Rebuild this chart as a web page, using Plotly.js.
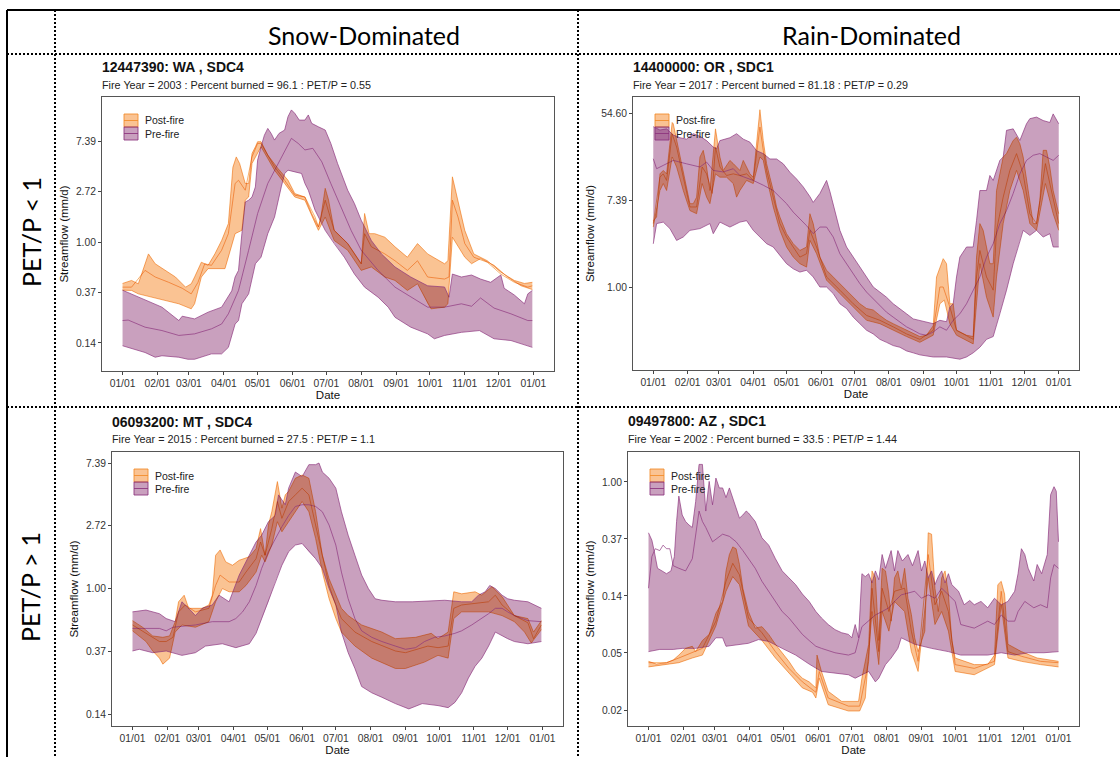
<!DOCTYPE html>
<html>
<head>
<meta charset="utf-8">
<script src="https://cdn.plot.ly/plotly-3.0.1.min.js"></script>
<style>
html,body{margin:0;padding:0;background:#fff;}
#chart{width:1120px;height:757px;}
</style>
</head>
<body>
<div id="chart"></div>
<script>
// ---- x axis: day of year, ticks at the first of each month ----
const monthDays = [0,31,59,90,120,151,181,212,243,273,304,334,365];
const monthLabels = ['01/01','02/01','03/01','04/01','05/01','06/01','07/01','08/01','09/01','10/01','11/01','12/01','01/01'];

// ---- y axis ticks (powers of e) ----
const tickValsSnow = [0.1353,0.3679,1,2.7183,7.3891];
const tickTextSnow = ['0.14','0.37','1.00','2.72','7.39'];
const tickValsOR = [1,7.3891,54.598];
const tickTextOR = ['1.00','7.39','54.60'];
const tickValsAZ = [0.0183,0.0498,0.1353,0.3679,1];
const tickTextAZ = ['0.02','0.05','0.14','0.37','1.00'];

// ---- 12447390: WA (streamflow mm/d by day of year) ----
const waPreHi = [[0,0.385],[20,0.32],[35,0.275],[50,0.211],[53,0.23],[64,0.218],[76,0.249],[88,0.275],[97,0.38],[100,0.50],[103,0.57],[106,1.18],[109,2.21],[112,2.29],[115,2.44],[118,2.98],[120,5.07],[123,6.6],[126,8.3],[129,9.5],[132,8.6],[135,7.54],[139,8.6],[144,9.2],[147,12.0],[150,13.7],[153,12.8],[157,11.2],[162,11.2],[165,12.4],[168,10.5],[174,9.8],[180,9.2],[185,7.06],[191,4.74],[200,2.79],[206,2.14],[212,1.54],[221,1.03],[230,0.79],[242,0.61],[256,0.50],[271,0.42],[286,0.41],[290,0.335],[293,0.53],[301,0.50],[310,0.52],[318,0.48],[327,0.45],[333,0.50],[336,0.52],[339,0.40],[348,0.35],[357,0.294],[360,0.358],[364,0.383]];
const waPreMid = [[0,0.211],[5,0.213],[20,0.185],[35,0.173],[50,0.157],[64,0.162],[79,0.179],[88,0.197],[94,0.241],[103,0.383],[112,0.85],[120,1.76],[129,3.19],[138,4.74],[146,6.6],[150,7.8],[156,7.06],[162,6.2],[169,6.4],[177,4.9],[185,3.19],[194,2.0],[203,1.26],[212,0.85],[227,0.57],[242,0.409],[256,0.335],[271,0.275],[286,0.275],[301,0.294],[310,0.28],[318,0.33],[330,0.27],[345,0.241],[360,0.211],[364,0.211]];
const waPreLo = [[0,0.128],[5,0.124],[20,0.112],[29,0.102],[35,0.105],[50,0.102],[58,0.098],[64,0.098],[79,0.109],[88,0.109],[94,0.124],[100,0.197],[103,0.211],[106,0.294],[112,0.358],[118,0.65],[123,0.74],[129,1.18],[135,1.64],[141,2.98],[144,3.89],[147,4.15],[153,4.0],[159,3.89],[162,3.19],[165,2.79],[171,1.88],[180,1.26],[188,0.97],[197,0.74],[206,0.53],[215,0.409],[227,0.335],[236,0.275],[242,0.225],[256,0.185],[271,0.162],[277,0.147],[286,0.157],[301,0.167],[317,0.173],[330,0.147],[345,0.142],[360,0.128],[364,0.124]];
const waPostHi = [[0,0.44],[8,0.467],[14,0.437],[20,0.65],[23,0.79],[29,0.65],[38,0.57],[47,0.50],[56,0.409],[61,0.437],[64,0.50],[70,0.67],[76,0.63],[82,0.79],[88,1.03],[94,1.44],[98,4.4],[101,5.4],[104,4.74],[109,3.19],[112,3.19],[115,5.78],[118,6.6],[120,7.3],[123,7.3],[129,5.6],[138,4.3],[147,3.4],[153,2.61],[162,2.44],[168,1.76],[174,1.35],[176,1.6],[180,2.9],[183,2.3],[188,1.26],[200,0.97],[212,0.65],[215,1.76],[219,1.18],[224,1.18],[233,1.10],[242,0.91],[253,0.74],[262,0.97],[271,0.79],[286,0.65],[289,0.69],[293,3.64],[298,2.29],[304,1.26],[312,0.79],[324,0.69],[336,0.55],[348,0.467],[357,0.44],[364,0.45]];
const waPostMid = [[0,0.409],[8,0.409],[20,0.57],[29,0.50],[41,0.45],[53,0.40],[61,0.358],[67,0.45],[73,0.65],[79,0.63],[88,0.85],[94,1.18],[100,3.19],[103,3.4],[109,2.79],[115,5.41],[120,7.06],[123,7.06],[135,4.44],[144,3.4],[153,2.53],[162,2.44],[171,1.64],[174,1.35],[180,2.29],[188,1.26],[200,0.97],[212,0.65],[215,1.18],[221,0.91],[233,0.79],[242,0.69],[253,0.57],[262,0.69],[271,0.50],[286,0.48],[290,0.50],[293,2.29],[298,1.64],[304,0.97],[312,0.74],[324,0.67],[336,0.53],[348,0.45],[360,0.409],[364,0.42]];
const waPostLo = [[0,0.385],[8,0.383],[14,0.358],[35,0.32],[50,0.294],[61,0.266],[64,0.294],[70,0.50],[76,0.59],[91,0.59],[94,0.74],[100,1.18],[106,1.26],[109,2.29],[112,2.44],[115,4.74],[123,6.6],[135,4.15],[144,3.19],[153,2.44],[162,2.29],[171,1.44],[174,1.26],[180,1.64],[188,1.03],[200,0.85],[212,0.57],[221,0.61],[233,0.50],[242,0.467],[253,0.383],[262,0.437],[271,0.294],[274,0.266],[286,0.275],[289,0.294],[293,1.10],[298,0.91],[304,0.74],[310,0.65],[318,0.72],[330,0.63],[342,0.50],[354,0.42],[364,0.39]];

// ---- 14400000: OR ----
const orPreHi = [[0,40],[6,37],[12,38],[18,33],[24,31],[30,30],[36,34],[42,32],[48,29],[54,25],[57,24],[60,29],[69,31],[75,34],[81,30],[87,28],[93,23],[99,21.5],[105,19],[111,19],[117,17],[123,14],[129,12],[135,10],[141,8],[144,7],[150,8.6],[153,10],[156,11.6],[159,9],[162,6.8],[168,3.68],[174,2.51],[180,1.99],[186,1.58],[192,1.26],[198,1.0],[204,0.89],[210,0.79],[216,0.68],[222,0.61],[228,0.54],[234,0.48],[240,0.465],[246,0.45],[252,0.43],[258,0.465],[264,0.45],[267,0.63],[270,0.68],[273,1.26],[276,1.99],[282,2.51],[288,2.51],[291,4.6],[294,9.2],[300,9.2],[303,13],[306,11.6],[312,18.4],[315,19.9],[318,36.7],[324,38],[330,29.1],[336,42.7],[339,48],[345,49.8],[351,46],[357,44],[360,53.6],[365,42.7]];
const orPreMid = [[0,19.1],[3,15.2],[9,16.4],[18,18.4],[30,17],[42,15.8],[48,17.7],[54,14.6],[63,14.1],[72,15.2],[78,13],[90,11.6],[99,10.4],[108,9.2],[114,7.9],[120,6.8],[126,5.6],[132,4.8],[138,4.1],[144,3.41],[150,3.97],[156,3.97],[162,3.16],[168,2.15],[174,1.71],[180,1.36],[186,1.08],[192,0.89],[198,0.76],[204,0.66],[210,0.56],[216,0.50],[222,0.45],[228,0.40],[234,0.37],[240,0.34],[246,0.33],[252,0.355],[258,0.40],[264,0.37],[270,0.465],[276,0.54],[282,0.68],[288,0.93],[294,1.26],[300,1.99],[306,2.71],[312,4.3],[318,5.8],[324,8.6],[330,13.5],[336,18.4],[342,20.7],[348,21.5],[354,19.9],[360,18.4],[365,20.7]];
const orPreLo = [[0,2.7],[3,4.3],[9,4.45],[15,3.83],[21,2.92],[27,3.16],[33,3.68],[42,3.83],[51,4.3],[54,3.41],[60,4.45],[69,3.97],[78,4.45],[84,4.6],[90,3.68],[96,3.16],[102,2.71],[108,2.51],[114,2.07],[120,1.71],[126,1.52],[132,1.41],[138,1.47],[144,1.26],[150,1.0],[156,1.0],[162,0.86],[168,0.68],[174,0.61],[180,0.50],[186,0.43],[192,0.37],[198,0.34],[204,0.30],[210,0.28],[216,0.26],[222,0.25],[228,0.23],[234,0.22],[240,0.21],[252,0.20],[264,0.20],[276,0.19],[282,0.20],[288,0.22],[294,0.25],[300,0.30],[306,0.32],[312,0.54],[318,0.93],[324,1.71],[330,2.92],[333,3.68],[339,3.28],[345,3.68],[351,3.16],[357,3.41],[360,2.51],[365,2.51]];
const orPostHi = [[0,4.6],[3,5.0],[6,13.5],[9,14.6],[12,13.5],[17,44],[18,42.7],[21,29.1],[24,19.9],[27,13.5],[30,9.2],[33,6.8],[36,6.8],[39,7.9],[42,19.9],[45,23.2],[48,15.8],[51,9.2],[56,38],[60,19.9],[63,14.6],[69,18.4],[72,17.1],[78,14.6],[81,18.4],[87,13.5],[90,12.5],[93,29.1],[96,59],[99,29.1],[102,17.1],[105,12.5],[108,9.2],[111,6.3],[114,5.0],[120,3.41],[126,2.71],[132,2.32],[138,2.51],[141,5.4],[144,4.3],[147,2.92],[150,1.99],[156,1.47],[162,1.26],[168,1.08],[174,0.93],[180,0.79],[186,0.68],[192,0.61],[198,0.59],[204,0.52],[210,0.465],[216,0.43],[222,0.40],[228,0.37],[234,0.34],[240,0.32],[246,0.33],[252,0.41],[255,1.26],[261,1.92],[264,1.71],[267,0.68],[270,0.68],[273,0.37],[282,0.33],[288,0.32],[291,1.99],[294,4.3],[297,3.68],[300,2.51],[303,1.71],[306,1.71],[309,9.2],[312,13.5],[315,19.9],[318,21.5],[324,29.1],[327,31.4],[330,27],[333,19.9],[336,11.6],[339,6.8],[342,4.3],[345,4.3],[348,7.3],[351,23.2],[354,23.2],[357,15.8],[360,9.2],[365,5.4]];
const orPostMid = [[0,4.3],[6,12.5],[9,13.5],[12,11.6],[17,33.9],[21,25],[27,12.5],[33,6.3],[39,6.3],[44,15.8],[48,13.5],[53,8.6],[56,25],[60,15.8],[66,13],[72,13.5],[78,13],[84,13.5],[90,11.6],[96,39.6],[99,23.2],[102,14.6],[108,7.9],[114,4.3],[120,3.16],[126,2.51],[132,1.99],[138,2.15],[141,3.68],[147,2.51],[156,1.26],[168,0.93],[180,0.68],[192,0.52],[204,0.465],[216,0.40],[228,0.34],[240,0.30],[252,0.37],[258,1.0],[261,1.0],[267,0.63],[273,0.37],[288,0.30],[291,1.26],[294,2.32],[300,1.26],[306,0.93],[309,3.68],[315,7.9],[321,14.6],[327,21.5],[333,13.5],[339,5.4],[345,4.3],[353,17.1],[360,7.3],[365,4.3]];
const orPostLo = [[0,3.97],[6,9.2],[9,10.8],[12,9.2],[17,19.9],[21,15.8],[27,9.2],[33,5.8],[39,5.4],[44,10.8],[48,7.9],[51,6.8],[56,13.5],[60,12.5],[66,12.5],[72,10.8],[75,7.9],[78,9.2],[84,11.6],[90,10.8],[96,19.9],[99,18.4],[102,12.5],[108,6.3],[114,3.68],[120,2.51],[126,1.99],[132,1.71],[138,1.58],[141,2.92],[147,2.15],[156,1.17],[168,0.86],[180,0.63],[192,0.465],[204,0.43],[216,0.37],[228,0.32],[240,0.28],[252,0.33],[258,0.68],[262,0.74],[267,0.43],[273,0.33],[288,0.27],[291,0.68],[294,1.71],[300,0.79],[306,0.50],[309,1.26],[315,4.3],[321,9.2],[327,14.6],[333,9.2],[339,4.3],[345,3.68],[353,10.8],[360,5.4],[365,3.68]];

// ---- 06093200: MT ----
const mtPreHi = [[0,0.69],[12,0.71],[24,0.67],[30,0.62],[38,0.59],[44,0.81],[50,0.73],[56,0.65],[62,0.73],[71,0.77],[77,0.90],[86,0.81],[95,1.24],[104,1.70],[110,2.1],[115,2.34],[121,2.9],[127,3.2],[130,4.45],[136,3.8],[139,4.95],[145,6.4],[151,5.95],[157,7.2],[163,7.2],[166,7.39],[169,6.4],[175,5.8],[181,4.95],[186,3.4],[192,2.34],[198,1.7],[204,1.24],[210,1.0],[216,0.85],[222,0.83],[234,0.81],[249,0.81],[263,0.82],[278,0.83],[293,0.81],[302,0.81],[308,0.90],[314,0.95],[318,1.05],[323,1.0],[329,0.90],[334,0.85],[340,0.83],[352,0.81],[364,0.73]];
const mtPreMid = [[0,0.53],[12,0.53],[24,0.53],[30,0.51],[36,0.54],[56,0.56],[71,0.59],[86,0.59],[92,0.62],[98,0.69],[104,0.81],[110,1.05],[115,1.38],[121,1.8],[127,2.22],[133,2.68],[139,3.2],[145,3.7],[151,3.8],[157,3.8],[163,3.7],[169,3.4],[175,2.75],[181,2.0],[186,1.3],[192,0.85],[198,0.62],[204,0.51],[213,0.46],[222,0.43],[234,0.40],[243,0.38],[252,0.39],[260,0.43],[269,0.46],[278,0.47],[287,0.49],[293,0.51],[302,0.56],[311,0.62],[317,0.67],[323,0.73],[329,0.73],[334,0.69],[340,0.65],[352,0.60],[364,0.59]];
const mtPreLo = [[0,0.37],[6,0.38],[18,0.36],[30,0.37],[44,0.345],[56,0.36],[65,0.40],[80,0.415],[92,0.39],[104,0.415],[110,0.49],[115,0.62],[121,0.81],[127,1.11],[133,1.45],[139,1.8],[145,2.0],[151,2.05],[157,1.8],[163,1.61],[169,1.38],[175,1.0],[181,0.77],[186,0.50],[192,0.36],[198,0.28],[204,0.21],[213,0.19],[222,0.177],[234,0.16],[246,0.147],[258,0.16],[272,0.155],[281,0.15],[287,0.163],[293,0.19],[299,0.24],[305,0.29],[311,0.33],[317,0.40],[323,0.50],[329,0.47],[334,0.45],[340,0.43],[352,0.415],[364,0.43]];
const mtPostHi = [[0,0.60],[9,0.54],[18,0.47],[27,0.46],[33,0.47],[38,0.59],[41,0.81],[46,0.90],[50,0.73],[62,0.73],[68,0.77],[71,0.90],[74,1.7],[78,1.85],[83,1.53],[89,1.45],[95,1.57],[104,1.66],[110,1.89],[114,2.6],[118,1.7],[121,2.75],[124,3.4],[129,5.5],[133,3.6],[136,4.45],[139,4.7],[145,5.8],[151,6.1],[157,5.8],[163,3.4],[169,1.7],[175,1.17],[181,0.90],[186,0.73],[192,0.65],[204,0.56],[222,0.50],[234,0.45],[252,0.46],[266,0.49],[272,0.45],[281,0.50],[286,0.95],[293,0.92],[305,0.95],[311,0.90],[320,1.03],[329,0.88],[340,0.65],[352,0.62],[357,0.50],[364,0.60]];
const mtPostMid = [[0,0.56],[12,0.49],[24,0.43],[30,0.43],[36,0.46],[41,0.69],[47,0.77],[56,0.69],[68,0.73],[74,1.05],[78,1.24],[86,1.11],[95,1.11],[101,1.3],[110,1.61],[114,2.1],[118,1.7],[124,2.6],[129,4.0],[133,3.06],[139,4.0],[145,4.45],[151,4.95],[157,4.45],[163,2.75],[169,1.61],[175,1.05],[181,0.77],[186,0.62],[198,0.50],[213,0.43],[234,0.37],[243,0.36],[263,0.40],[272,0.39],[281,0.40],[286,0.73],[293,0.77],[317,0.81],[323,0.90],[329,0.77],[340,0.65],[352,0.58],[357,0.45],[364,0.56]];
const mtPostLo = [[0,0.51],[12,0.43],[18,0.37],[24,0.33],[27,0.30],[33,0.33],[38,0.50],[44,0.56],[56,0.54],[68,0.59],[74,0.81],[80,1.0],[86,0.95],[95,0.95],[101,1.05],[110,1.3],[115,1.7],[118,1.53],[124,2.0],[129,2.9],[133,2.47],[139,2.9],[145,3.4],[151,4.0],[157,3.4],[163,2.22],[169,1.3],[175,0.85],[181,0.62],[186,0.50],[198,0.40],[213,0.33],[234,0.28],[243,0.28],[260,0.31],[272,0.345],[281,0.33],[286,0.62],[293,0.69],[317,0.69],[329,0.65],[340,0.59],[349,0.50],[355,0.42],[364,0.52]];

// ---- 09497800: AZ ----
const azPreHi = [[0,0.41],[3,0.36],[5,0.30],[8,0.22],[12,0.21],[16,0.20],[20,0.21],[23,0.27],[25,0.50],[27,0.78],[30,0.56],[33,0.50],[36,0.47],[39,0.45],[42,0.71],[45,1.36],[48,1.36],[51,0.60],[54,1.01],[57,0.67],[60,1.07],[63,0.90],[66,0.90],[69,0.76],[72,0.90],[75,0.76],[78,0.63],[81,0.53],[84,0.56],[87,0.60],[89,0.58],[95,0.50],[101,0.375],[107,0.33],[113,0.26],[119,0.21],[125,0.186],[131,0.165],[137,0.14],[143,0.123],[149,0.103],[154,0.092],[160,0.082],[166,0.075],[172,0.071],[178,0.069],[181,0.065],[184,0.082],[187,0.065],[190,0.20],[193,0.19],[196,0.20],[199,0.17],[202,0.21],[205,0.18],[208,0.28],[211,0.22],[214,0.26],[216,0.30],[219,0.21],[222,0.30],[226,0.25],[231,0.28],[235,0.23],[240,0.30],[243,0.21],[246,0.25],[249,0.186],[252,0.21],[255,0.165],[258,0.19],[261,0.21],[264,0.17],[267,0.20],[270,0.165],[276,0.147],[281,0.116],[286,0.125],[290,0.116],[296,0.123],[302,0.11],[308,0.13],[314,0.116],[320,0.123],[326,0.147],[329,0.20],[332,0.31],[335,0.28],[338,0.22],[343,0.176],[346,0.235],[350,0.20],[355,0.28],[358,0.80],[361,0.92],[363,0.85],[365,0.35]];
const azPreMid = [[0,0.155],[3,0.27],[6,0.31],[10,0.30],[13,0.33],[16,0.31],[19,0.31],[22,0.23],[27,0.22],[33,0.21],[39,0.26],[45,0.60],[48,0.50],[51,0.45],[57,0.35],[66,0.40],[72,0.385],[78,0.35],[84,0.30],[89,0.26],[95,0.22],[101,0.175],[107,0.147],[113,0.123],[119,0.103],[125,0.092],[131,0.079],[137,0.069],[143,0.062],[149,0.056],[154,0.054],[166,0.050],[178,0.048],[184,0.050],[190,0.079],[196,0.087],[202,0.097],[208,0.103],[214,0.11],[219,0.123],[225,0.138],[237,0.147],[243,0.13],[249,0.138],[255,0.13],[261,0.155],[267,0.138],[273,0.123],[278,0.082],[290,0.077],[302,0.087],[308,0.082],[314,0.097],[320,0.087],[326,0.087],[329,0.103],[335,0.123],[343,0.11],[349,0.116],[355,0.11],[358,0.186],[361,0.235],[365,0.22]];
const azPreLo = [[0,0.051],[10,0.053],[22,0.053],[30,0.054],[42,0.054],[54,0.056],[60,0.065],[66,0.065],[69,0.056],[89,0.059],[98,0.063],[107,0.061],[119,0.054],[131,0.048],[143,0.041],[154,0.036],[178,0.034],[184,0.032],[196,0.036],[202,0.030],[205,0.032],[211,0.0406],[216,0.0456],[222,0.054],[225,0.065],[237,0.058],[252,0.054],[267,0.051],[278,0.048],[302,0.048],[314,0.050],[326,0.048],[338,0.050],[352,0.050],[365,0.051]];
const azPostHi = [[0,0.043],[7,0.041],[16,0.042],[22,0.044],[27,0.048],[33,0.054],[39,0.056],[42,0.051],[48,0.062],[54,0.069],[60,0.10],[66,0.123],[69,0.21],[72,0.28],[75,0.32],[78,0.31],[81,0.235],[84,0.155],[89,0.103],[95,0.077],[101,0.079],[107,0.069],[113,0.058],[119,0.050],[125,0.043],[131,0.036],[137,0.032],[143,0.030],[149,0.027],[150,0.048],[154,0.036],[160,0.0254],[172,0.0213],[187,0.0213],[190,0.032],[196,0.058],[199,0.21],[202,0.186],[205,0.062],[208,0.22],[211,0.21],[214,0.14],[216,0.087],[219,0.186],[222,0.21],[225,0.155],[228,0.22],[231,0.13],[234,0.098],[237,0.065],[240,0.051],[246,0.073],[249,0.41],[252,0.40],[255,0.155],[258,0.103],[261,0.186],[264,0.21],[267,0.14],[270,0.062],[273,0.0456],[290,0.0406],[302,0.0406],[308,0.048],[311,0.165],[314,0.175],[317,0.14],[320,0.058],[332,0.051],[346,0.0456],[365,0.043]];
const azPostMid = [[0,0.042],[16,0.042],[27,0.0456],[39,0.050],[48,0.054],[60,0.087],[69,0.175],[75,0.24],[81,0.196],[89,0.092],[101,0.071],[113,0.051],[125,0.038],[137,0.030],[149,0.025],[152,0.036],[160,0.0226],[178,0.0196],[188,0.0196],[196,0.043],[199,0.155],[205,0.051],[208,0.155],[214,0.103],[219,0.147],[228,0.155],[234,0.073],[240,0.043],[249,0.28],[255,0.116],[261,0.147],[267,0.103],[273,0.0406],[290,0.038],[308,0.043],[314,0.147],[320,0.051],[332,0.047],[349,0.043],[365,0.042]];
const azPostLo = [[0,0.039],[16,0.0406],[27,0.042],[39,0.0456],[48,0.048],[60,0.080],[69,0.147],[75,0.19],[81,0.165],[89,0.080],[101,0.062],[113,0.0456],[125,0.035],[137,0.027],[146,0.025],[149,0.0226],[152,0.032],[160,0.0201],[178,0.018],[188,0.018],[193,0.0226],[199,0.103],[205,0.0406],[208,0.103],[214,0.073],[219,0.123],[228,0.103],[234,0.051],[240,0.036],[249,0.186],[255,0.082],[261,0.103],[267,0.073],[273,0.036],[290,0.034],[308,0.0406],[314,0.116],[320,0.0456],[332,0.043],[349,0.0406],[365,0.039]];

// ---- styling ----
const W = 1120, H = 757;
const TXT = 'Liberation Sans, Arial, Helvetica, sans-serif';
const HEAD = 'Lato, Noto Sans, sans-serif';
const POST_LINE = 'rgba(242,140,40,0.85)';
const POST_FILL = 'rgba(245,129,29,0.48)';
const PRE_LINE = 'rgba(140,50,125,0.85)';
const PRE_FILL = 'rgba(135,45,110,0.45)';

const px = x => x / W;
const py = y => 1 - y / H;

const panels = [
  {title:'12447390: WA , SDC4', sub:'Fire Year = 2003 : Percent burned = 96.1 : PET/P = 0.55',
   f:{L:102,R:554,T:97,B:371}, yr:[-1.110,1.248], tv:tickValsSnow, tt:tickTextSnow,
   pre:[waPreLo,waPreMid,waPreHi], post:[waPostLo,waPostMid,waPostHi], ty:67, sy:85},
  {title:'14400000: OR , SDC1', sub:'Fire Year = 2017 : Percent burned = 81.18 : PET/P = 0.29',
   f:{L:633,R:1079,T:97,B:370}, yr:[-0.829,1.898], tv:tickValsOR, tt:tickTextOR,
   pre:[orPreLo,orPreMid,orPreHi], post:[orPostLo,orPostMid,orPostHi], ty:67, sy:85},
  {title:'06093200: MT , SDC4', sub:'Fire Year = 2015 : Percent burned = 27.5 : PET/P = 1.1',
   f:{L:112,R:563,T:452,B:726}, yr:[-0.951,0.945], tv:tickValsSnow, tt:tickTextSnow,
   pre:[mtPreLo,mtPreMid,mtPreHi], post:[mtPostLo,mtPostMid,mtPostHi], ty:422, sy:439},
  {title:'09497800: AZ , SDC1', sub:'Fire Year = 2002 : Percent burned = 33.5 : PET/P = 1.44',
   f:{L:628,R:1079,T:452,B:726}, yr:[-1.859,0.228], tv:tickValsAZ, tt:tickTextAZ,
   pre:[azPreLo,azPreMid,azPreHi], post:[azPostLo,azPostMid,azPostHi], ty:421, sy:439}
];

function band(lo, hi, color, xa, ya) {
  return {
    type:'scatter', mode:'lines', xaxis:xa, yaxis:ya,
    x: hi.map(d => d[0]).concat(lo.map(d => d[0]).reverse()),
    y: hi.map(d => d[1]).concat(lo.map(d => d[1]).reverse()),
    fill:'toself', fillcolor:color, line:{width:0},
    hoverinfo:'skip', showlegend:false
  };
}
function curve(arr, color, xa, ya) {
  return {
    type:'scatter', mode:'lines', xaxis:xa, yaxis:ya,
    x: arr.map(d => d[0]), y: arr.map(d => d[1]),
    line:{color:color, width:0.8}, hoverinfo:'skip', showlegend:false
  };
}

const traces = [];
const layout = {
  width:W, height:H, margin:{l:0,r:0,t:0,b:0},
  paper_bgcolor:'#fff', plot_bgcolor:'#fff',
  showlegend:false, annotations:[], shapes:[]
};

function ann(text, x, y, o) {
  layout.annotations.push(Object.assign({
    text:text, xref:'paper', yref:'paper', x:px(x), y:py(y),
    xanchor:'left', yanchor:'middle', showarrow:false,
    font:{family:TXT, size:11, color:'#111'}
  }, o || {}));
}

function axisBase() {
  return {
    showline:true, mirror:true, linecolor:'#555', linewidth:1,
    ticks:'outside', ticklen:3, tickwidth:1, tickcolor:'#444',
    showgrid:false, zeroline:false, fixedrange:true,
    tickfont:{family:TXT, size:10.3, color:'#333333'}
  };
}

panels.forEach((p, i) => {
  const n = i + 1;
  const xa = 'x' + (n > 1 ? n : ''), ya = 'y' + (n > 1 ? n : '');
  const [preLo, preMid, preHi] = p.pre;
  const [postLo, postMid, postHi] = p.post;

  traces.push(band(preLo, preHi, PRE_FILL, xa, ya));
  traces.push(band(postLo, postHi, POST_FILL, xa, ya));
  [preLo, preHi, preMid].forEach(s => traces.push(curve(s, PRE_LINE, xa, ya)));
  [postLo, postHi, postMid].forEach(s => traces.push(curve(s, POST_LINE, xa, ya)));

  const f = p.f;
  layout['xaxis' + (n > 1 ? n : '')] = Object.assign(axisBase(), {
    domain:[px(f.L), px(f.R)], anchor:ya, range:[-18.25, 383.25],
    tickmode:'array', tickvals:monthDays, ticktext:monthLabels,
    title:{text:'Date', font:{family:TXT, size:11.5, color:'#111'}, standoff:2}
  });
  layout['yaxis' + (n > 1 ? n : '')] = Object.assign(axisBase(), {
    domain:[py(f.B), py(f.T)], anchor:xa, type:'log', range:p.yr,
    tickmode:'array', tickvals:p.tv, ticktext:p.tt,
    title:{text:'Streamflow (mm/d)', font:{family:TXT, size:11.5, color:'#111'}, standoff:4}
  });

  // panel heading and subtitle
  ann('<b>' + p.title + '</b>', f.L - 2, p.ty, {font:{family:TXT, size:14, color:'#111'}});
  ann(p.sub, f.L - 2, p.sy, {font:{family:TXT, size:10.8, color:'#222'}});

  // legend keys: ribbon swatch with its centre line
  const kL = f.L + 22, kR = f.L + 36;
  [[f.T + 17, f.T + 30, POST_FILL, POST_LINE, 'Post-fire'],
   [f.T + 30, f.T + 43, PRE_FILL, PRE_LINE, 'Pre-fire']].forEach(k => {
    layout.shapes.push({type:'rect', xref:'paper', yref:'paper',
      x0:px(kL), x1:px(kR), y0:py(k[1]), y1:py(k[0]),
      fillcolor:k[2], line:{color:k[3], width:1}, layer:'above'});
    const mid = (k[0] + k[1]) / 2;
    layout.shapes.push({type:'line', xref:'paper', yref:'paper',
      x0:px(kL), x1:px(kR), y0:py(mid), y1:py(mid),
      line:{color:k[3], width:1}, layer:'above'});
    ann(k[4], f.L + 41, mid, {font:{family:TXT, size:10.5, color:'#222'}});
  });
});

// column and row headers
ann('Snow-Dominated', 364, 35, {xanchor:'center', font:{family:HEAD, size:25, color:'#000'}});
ann('Rain-Dominated', 871, 35, {xanchor:'center', font:{family:HEAD, size:25, color:'#000'}});
ann('PET/P < 1', 31, 232, {xanchor:'center', textangle:-90, font:{family:HEAD, size:25, color:'#000'}});
ann('PET/P > 1', 30, 587, {xanchor:'center', textangle:-90, font:{family:HEAD, size:25, color:'#000'}});

// frame of the figure table
function seg(x0, y0, x1, y1, dash) {
  layout.shapes.push({type:'line', xref:'paper', yref:'paper',
    x0:px(x0), y0:py(y0), x1:px(x1), y1:py(y1),
    line:{color:'#000', width:2, dash:dash || 'solid'}, layer:'above'});
}
seg(7, 10, 1120, 10);
seg(7, 10, 7, 757);
seg(7, 54, 1120, 54, '2px,2px');
seg(7, 407, 1120, 407, '2px,2px');
seg(55, 10, 55, 757, '2px,2px');
seg(578, 10, 578, 757, '2px,2px');

Plotly.newPlot('chart', traces, layout, {displayModeBar:false, staticPlot:true}).then(gd => {
  // post-fire ribbons and lines darken what they cover, so overlaps read as a deeper brown
  gd.querySelectorAll('path.js-fill').forEach(el => {
    if ((el.style.fill || '').replace(/\s/g, '') === 'rgb(245,129,29)') el.style.mixBlendMode = 'multiply';
  });
  gd.querySelectorAll('path.js-line').forEach(el => {
    if ((el.style.stroke || '').replace(/\s/g, '') === 'rgb(242,140,40)') el.style.mixBlendMode = 'multiply';
  });
});
</script>
</body>
</html>
